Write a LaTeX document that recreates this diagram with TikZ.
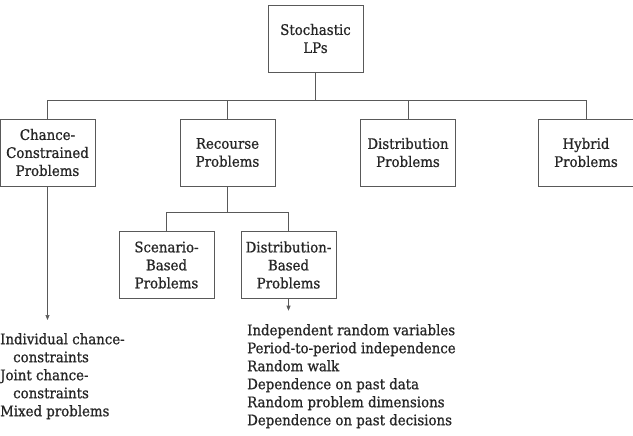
\documentclass[tikz,border=0pt]{standalone}
\usepackage{fontspec}
\setmainfont{DejaVu Serif}[FakeBold=0.9, FakeStretch=0.92]
\usepackage{tikz}
\usetikzlibrary{arrows.meta}

\begin{document}
\begin{tikzpicture}[
  x=1pt, y=-1pt,
  font=\fontsize{14.5}{18}\selectfont,
  every node/.style={text=black!85},
  cls/.style={
    draw=black!65, align=center, inner sep=2pt,
    minimum width=95pt, minimum height=67pt
  },
  lst/.style={align=left, inner sep=2pt},
  lnk/.style={draw=black!65, line width=0.6pt}
]
  \useasboundingbox (0,0) rectangle (633,436);
  \node[cls] (slp) at (315.5,38.5) {Stochastic\\LPs};
  \node[cls] (ccp) at (47.5,152.5) {Chance-\\Constrained\\Problems};
  \node[cls] (rcp) at (227.5,152.5) {Recourse\\Problems};
  \node[cls] (dsp) at (408,152.5) {Distribution\\Problems};
  \node[cls] (hbp) at (586,152.5) {Hybrid\\Problems};
  \node[cls] (sbp) at (166.5,265) {Scenario-\\Based\\Problems};
  \node[cls] (dbp) at (288.5,265) {Distribution-\\Based\\Problems};
  \coordinate (bus) at (315.5,100);
  \coordinate (sub) at (227.5,212);
  \draw[lnk] (slp) -- (bus);
  \foreach \x in {ccp,rcp,dsp,hbp} {
    \draw[lnk] (bus) -| (\x.north);
  }
  \draw[lnk] (rcp) -- (sub);
  \foreach \x in {sbp,dbp} {
    \draw[lnk] (sub) -| (\x.north);
  }
  \node[lst, anchor=north west] (cclist) at (-2,331) {%
    Individual chance-\\
    \hspace{13pt}constraints\\
    Joint chance-\\
    \hspace{13pt}constraints\\
    Mixed problems};
  \node[lst, anchor=north west] (dblist) at (245,322) {%
    Independent random variables\\
    Period-to-period independence\\
    Random walk\\
    Dependence on past data\\
    Random problem dimensions\\
    Dependence on past decisions};
  \draw[lnk, -{Triangle[length=5pt, width=4pt]}, shorten >=11pt]
    (ccp) -- (ccp |- cclist.north);
  \draw[lnk, -{Triangle[length=5pt, width=4pt]}] (dbp.south) -- ++(0,12);
\end{tikzpicture}
\end{document}
